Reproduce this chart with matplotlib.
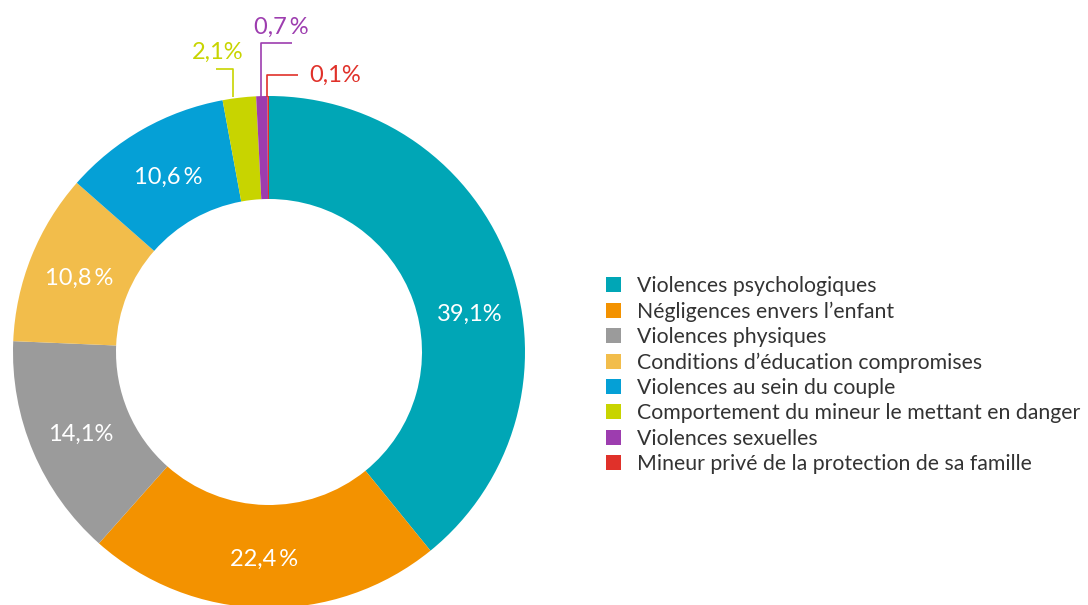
import numpy as np
import matplotlib.pyplot as plt

categories = ["Violences psychologiques", "Négligences envers l\u2019enfant",
              "Violences physiques", "Conditions d\u2019éducation compromises",
              "Violences au sein du couple",
              "Comportement du mineur le mettant en danger",
              "Violences sexuelles",
              "Mineur privé de la protection de sa famille"]
shares = [39.1, 22.4, 14.1, 10.8, 10.6, 2.1, 0.7, 0.1]
share_labels = ["39,1%", "22,4\u2009%", "14,1%", "10,8\u2009%", "10,6\u2009%",
                "2,1%", "0,7\u2009%", "0,1%"]
colors = ["#00A6B6", "#F39200", "#9B9B9B", "#F2BD4B", "#05A0D6",
          "#C8D400", "#9D3DAF", "#E0312A"]

plt.rcParams['font.family'] = ['Lato', 'DejaVu Sans']

fig = plt.figure(figsize=(10.88, 6.05), dpi=100)
ax = fig.add_axes([0, 0, 1, 1])

cx, cy = 269, 253
R, r_in = 256, 153
wedges, _ = ax.pie(shares, colors=colors, startangle=90, counterclock=False,
                   radius=R, center=(cx, cy), frame=True,
                   wedgeprops=dict(width=R - r_in, linewidth=0))
ax.set_xlim(0, 1088)
ax.set_ylim(0, 605)
ax.set_aspect('equal')
ax.axis('off')

# labels inside the ring for the big slices (small angle nudges to match the original)
rmid = (R + r_in) / 2
nudge = [-8, 0, 0, 0, 0]
for w, lab, dn in zip(wedges[:5], share_labels[:5], nudge):
    a = np.deg2rad((w.theta1 + w.theta2) / 2 + dn)
    ax.text(cx + rmid * np.cos(a), cy + rmid * np.sin(a) - 3, lab, color="white",
            fontsize=17, ha="center", va="center")

# callouts for the thin slices: (x of vertical, y of elbow, x end of horizontal, text x, text y, ha)
callouts = [(233, 605 - 69, 216, 218, 605 - 52, "center"),
            (261, 605 - 43, 292, 281, 605 - 27, "center"),
            (267, 605 - 75, 298, 309, 605 - 75, "left")]
for w, lab, col, (xv, ye, xh, tx, ty, ha) in zip(wedges[5:], share_labels[5:], colors[5:], callouts):
    ax.plot([xv, xv, xh], [cy + R - 1, ye, ye], color=col, lw=1.2, solid_capstyle="butt")
    ax.text(tx, ty, lab, color=col, fontsize=17, ha=ha, va="center")

fig.legend(wedges, categories, loc="center left", bbox_to_anchor=(587 / 1088, 1 - 375 / 605),
           frameon=False, fontsize=15.3, handlelength=0.7, handleheight=0.7,
           handletextpad=0.75, labelspacing=0.25, labelcolor="#333333")

fig.savefig("out.png", dpi=100)
